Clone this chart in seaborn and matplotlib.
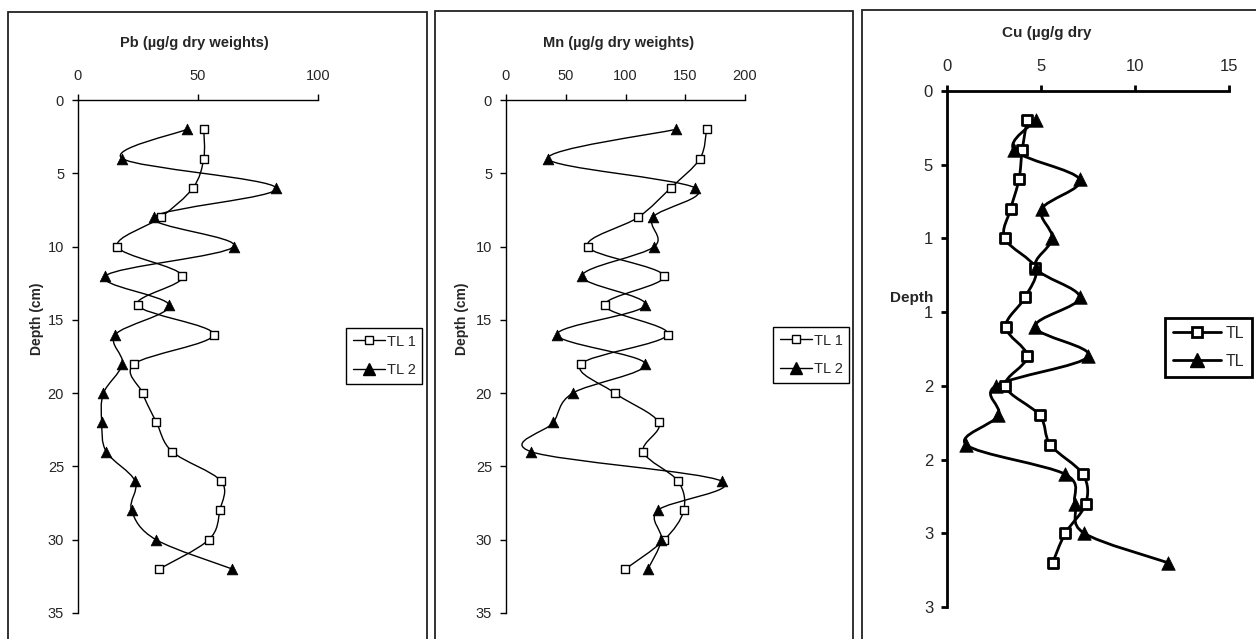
import numpy as np
import pandas as pd
import seaborn as sns
import matplotlib.pyplot as plt
from matplotlib.path import Path
from matplotlib.patches import PathPatch, Rectangle
from matplotlib.lines import Line2D

# Sampling depths (cm)
depth = [2, 4, 6, 8, 10, 12, 14, 16, 18, 20, 22, 24, 26, 28, 30, 32]

# Pb (ug/g dry weight)
pb_tl1 = [52.4, 52.4, 47.9, 34.5, 16.4, 43.5, 24.8, 56.5, 23.5, 26.9, 32.7, 39.3, 59.6, 59.1, 54.5, 33.8]
pb_tl2 = [45.4, 18.5, 82.6, 31.5, 64.9, 11.4, 38.0, 15.6, 18.5, 10.6, 9.9, 11.8, 23.8, 22.3, 32.5, 64.3]

# Mn (ug/g dry weight)
mn_tl1 = [167.9, 162.3, 137.8, 110.7, 68.3, 132.2, 82.6, 135.3, 63.0, 91.2, 127.8, 114.9, 143.9, 148.7, 132.5, 99.9]
mn_tl2 = [142.3, 35.1, 158.4, 123.0, 124.1, 63.6, 116.6, 42.7, 116.6, 55.8, 39.6, 21.2, 180.5, 126.9, 130.0, 118.8]

# Cu (ug/g dry weight)
cu_tl1 = [4.26, 4.0, 3.83, 3.39, 3.07, 4.70, 4.15, 3.12, 4.27, 3.10, 4.93, 5.50, 7.23, 7.38, 6.29, 5.62]
cu_tl2 = [4.72, 3.56, 7.06, 5.04, 5.60, 4.72, 7.06, 4.68, 7.52, 2.59, 2.73, 1.03, 6.29, 6.81, 7.30, 11.76]

depth_ticks = [0, 5, 10, 15, 20, 25, 30, 35]
cu_depth_labels = ['0', '5', '1', '1', '2', '2', '3', '3']

sns.set_style('white')
plt.rcParams['font.family'] = ['Liberation Sans', 'DejaVu Sans']

W, H = 1256, 639
fig = plt.figure(figsize=(W / 100, H / 100), dpi=100)


def fx(px):
    return px / W


def fy(py):
    return 1 - py / H


def smooth_path(x, y):
    # Excel-style smoothed line: Catmull-Rom segments as cubic Bezier curves
    x = np.asarray(x, float)
    y = np.asarray(y, float)
    pts = np.column_stack([x, y])
    verts = [pts[0]]
    codes = [Path.MOVETO]
    n = len(pts)
    for i in range(n - 1):
        p0 = pts[i - 1] if i > 0 else pts[i]
        p1, p2 = pts[i], pts[i + 1]
        p3 = pts[i + 2] if i + 2 < n else pts[i + 1]
        c1 = p1 + (p2 - p0) / 6
        c2 = p2 - (p3 - p1) / 6
        verts += [c1, c2, p2]
        codes += [Path.CURVE4] * 3
    return Path(verts, codes)


def draw_panel(ax, tl1, tl2, xmax, xstep, lw, ms_sq, ms_tri, tick_fs, spine_lw):
    df = pd.DataFrame({'depth': depth * 2,
                       'value': tl1 + tl2,
                       'series': ['TL 1'] * len(depth) + ['TL 2'] * len(depth)})
    for vals in (tl1, tl2):
        ax.add_patch(PathPatch(smooth_path(vals, depth), facecolor='none',
                               edgecolor='black', lw=lw, zorder=2))
    sns.scatterplot(data=df[df.series == 'TL 1'], x='value', y='depth', ax=ax,
                    marker='s', color='white', edgecolor='black',
                    linewidth=lw, s=ms_sq, zorder=3, legend=False)
    sns.scatterplot(data=df[df.series == 'TL 2'], x='value', y='depth', ax=ax,
                    marker='^', color='black', edgecolor='black',
                    linewidth=0.5, s=ms_tri, zorder=3, legend=False)
    ax.set_xlim(0, xmax)
    ax.set_ylim(35, 0)
    ax.xaxis.tick_top()
    ax.set_xticks(np.arange(0, xmax + 0.1, xstep))
    ax.set_yticks(depth_ticks)
    ax.set_xlabel('')
    ax.set_ylabel('')
    for s in ('right', 'bottom'):
        ax.spines[s].set_visible(False)
    for s in ('left', 'top'):
        ax.spines[s].set_color('black')
        ax.spines[s].set_linewidth(spine_lw)
    ax.tick_params(axis='both', direction='out', length=4, width=spine_lw,
                   color='black', labelsize=tick_fs, pad=6,
                   left=True, top=True, bottom=False, labelbottom=False)
    ax.tick_params(axis='x', pad=8)
    ax.patch.set_alpha(0)


def legend_handles(lw, ms_sq, ms_tri):
    return [Line2D([], [], color='black', lw=lw, marker='s', markersize=ms_sq,
                   markerfacecolor='white', markeredgecolor='black', markeredgewidth=lw),
            Line2D([], [], color='black', lw=lw, marker='^', markersize=ms_tri,
                   markerfacecolor='black', markeredgecolor='black')]


# Chart frames
for (l, r, t) in [(8, 427, 12), (435, 853, 11), (862, 1262, 10)]:
    fig.add_artist(Rectangle((fx(l), fy(H + 20)), fx(r - l), fy(t) - fy(H + 20),
                             transform=fig.transFigure, fill=False,
                             edgecolor='#222222', lw=1.3))

# Panel 1: Pb
ax1 = fig.add_axes([fx(78), fy(613), fx(318 - 78), fy(100) - fy(613)])
draw_panel(ax1, pb_tl1, pb_tl2, 100, 50, 1.0, 38, 60, 10.5, 1.0)
fig.text(fx(194), fy(43), 'Pb (\u00b5g/g dry weights)', ha='center', va='center',
         fontsize=10.5, fontweight='bold')
fig.text(fx(37), fy(319), 'Depth (cm)', ha='center', va='center', rotation=90,
         fontsize=10, fontweight='bold')
fig.legend(handles=legend_handles(1.0, 6, 8), labels=['TL 1', 'TL 2'],
           loc='upper left', bbox_to_anchor=(fx(346), fy(328)),
           bbox_transform=fig.transFigure, fontsize=10.5, frameon=True,
           fancybox=False, edgecolor='black', framealpha=1, borderpad=0.45,
           handlelength=2.2, handletextpad=0.15, labelspacing=1.0,
           borderaxespad=0).get_frame().set_linewidth(1.0)

# Panel 2: Mn
ax2 = fig.add_axes([fx(506), fy(613), fx(745 - 506), fy(100) - fy(613)])
draw_panel(ax2, mn_tl1, mn_tl2, 200, 50, 1.0, 38, 60, 10.5, 1.0)
fig.text(fx(619), fy(43), 'Mn (\u00b5g/g dry weights)', ha='center', va='center',
         fontsize=10.5, fontweight='bold')
fig.text(fx(462), fy(319), 'Depth (cm)', ha='center', va='center', rotation=90,
         fontsize=10, fontweight='bold')
fig.legend(handles=legend_handles(1.0, 6, 8), labels=['TL 1', 'TL 2'],
           loc='upper left', bbox_to_anchor=(fx(773), fy(327)),
           bbox_transform=fig.transFigure, fontsize=10.5, frameon=True,
           fancybox=False, edgecolor='black', framealpha=1, borderpad=0.45,
           handlelength=2.2, handletextpad=0.15, labelspacing=1.0,
           borderaxespad=0).get_frame().set_linewidth(1.0)

# Panel 3: Cu
ax3 = fig.add_axes([fx(947), fy(607), fx(1229 - 947), fy(91) - fy(607)])
draw_panel(ax3, cu_tl1, cu_tl2, 15, 5, 2.0, 45, 95, 12, 2.0)
ax3.set_yticklabels(cu_depth_labels)
fig.text(fx(1047), fy(33), 'Cu (\u00b5g/g dry', ha='center', va='center',
         fontsize=11, fontweight='bold')
fig.text(fx(912), fy(298), 'Depth', ha='center', va='center',
         fontsize=11, fontweight='bold')
fig.legend(handles=legend_handles(2.0, 7, 10), labels=['TL', 'TL'],
           loc='upper left', bbox_to_anchor=(fx(1165), fy(318)),
           bbox_transform=fig.transFigure, fontsize=11.5, frameon=True,
           fancybox=False, edgecolor='black', framealpha=1, borderpad=0.5,
           handlelength=3.0, handletextpad=0.3, labelspacing=0.8,
           borderaxespad=0).get_frame().set_linewidth(2.0)

fig.savefig('out.png', dpi=100)
